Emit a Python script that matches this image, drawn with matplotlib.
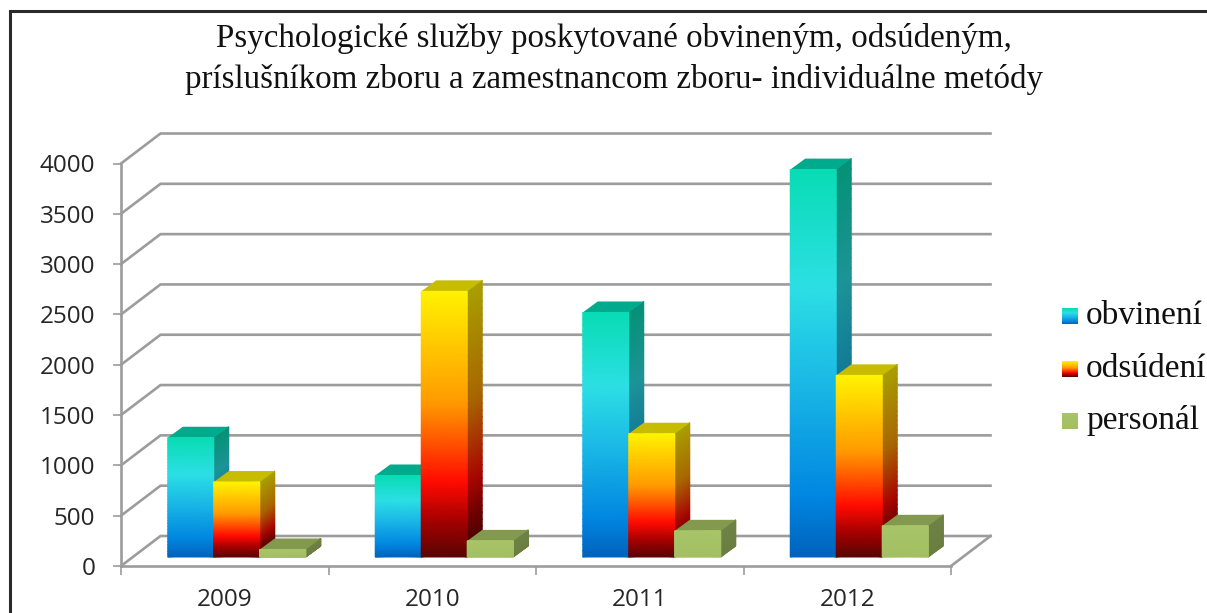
"""Recreation of the 3D-look clustered column chart on psychological services."""

import matplotlib
matplotlib.use("Agg")
import numpy as np
import matplotlib.pyplot as plt
from matplotlib.colors import LinearSegmentedColormap
from matplotlib.patches import Polygon, Rectangle

years = ["2009", "2010", "2011", "2012"]
series_names = ["obvinení", "odsúdení", "personál"]
obvineni = [1185, 810, 2430, 3850]
odsudeni = [745, 2640, 1225, 1805]
personal = [75, 160, 260, 310]
y_ticks = [0, 500, 1000, 1500, 2000, 2500, 3000, 3500, 4000]
title_text = ("Psychologické služby poskytované obvineným, odsúdeným,\n"
              "príslušníkom zboru a zamestnancom zboru- individuálne metódy")

W, H = 1207, 613
GREY = "#9c9c9c"
SHADE = 0.66

# pixel frame of the front plane
LEFT, RIGHT, BOTTOM, TOP = 121, 951, 566, 163.5
PX_X = 1 / ((RIGHT - LEFT) / 4)          # data units per pixel, x
PX_Y = 4000 / (BOTTOM - TOP)             # data units per pixel, y
WALL_DX, WALL_DY = 39.5 * PX_X, 30 * PX_Y
BAR_W = 46 * PX_X
BAR_DX, BAR_DY = 15 * PX_X, 11 * PX_Y
BASE_DX, BASE_DY = 12 * PX_X, 9 * PX_Y

blue_stops = [(0.0, "#08dcb4"), (0.3, "#2cdfe4"), (0.55, "#1ab8e6"),
              (0.85, "#0085e0"), (1.0, "#0062bc")]
fire_stops = [(0.0, "#fff200"), (0.42, "#ff9a00"), (0.72, "#ff0a00"),
              (0.86, "#a80000"), (1.0, "#5a0404")]
green_stops = [(0.0, "#a8c468"), (1.0, "#a2bf62")]
top_colors = ["#00aa8c", "#c8bc00", "#83994e"]


def make_cmap(stops, factor=1.0):
    base = LinearSegmentedColormap.from_list("base", stops)
    rgba = base(np.linspace(1, 0, 256))   # 0 = bottom, 1 = top of the bar
    rgba[:, :3] *= factor
    return LinearSegmentedColormap.from_list("grad", rgba)


fronts = [make_cmap(s) for s in (blue_stops, fire_stops, green_stops)]
sides = [make_cmap(s, SHADE) for s in (blue_stops, fire_stops, green_stops)]


def gradient_face(ax, xs, ys, cmap, z):
    """xs/ys: (n, 2) vertex grids, bottom row first."""
    t = np.linspace(0, 1, xs.shape[0])[:, None].repeat(2, axis=1)
    ax.pcolormesh(xs, ys, t, cmap=cmap, vmin=0, vmax=1, shading="gouraud",
                  zorder=z, clip_on=False)


def draw_bar(ax, x0, value, idx, z):
    y0 = BASE_DY
    y1 = BASE_DY + value
    v = np.linspace(0, 1, 40)
    ys = np.column_stack([y0 + v * value, y0 + v * value])
    xs = np.column_stack([np.full(40, x0), np.full(40, x0 + BAR_W)])
    # side face, sheared back
    side_x = np.column_stack([np.full(40, x0 + BAR_W), np.full(40, x0 + BAR_W + BAR_DX)])
    side_y = np.column_stack([ys[:, 0], ys[:, 0] + BAR_DY])
    gradient_face(ax, side_x, side_y, sides[idx], z)
    ax.add_patch(Polygon([(x0, y1), (x0 + BAR_W, y1),
                          (x0 + BAR_W + BAR_DX, y1 + BAR_DY), (x0 + BAR_DX, y1 + BAR_DY)],
                         closed=True, fc=top_colors[idx], ec="none", zorder=z, clip_on=False))
    gradient_face(ax, xs, ys, fronts[idx], z + 0.1)


fig = plt.figure(figsize=(W / 100, H / 100), dpi=100, facecolor="white")
ax = fig.add_axes([LEFT / W, 1 - BOTTOM / H, (RIGHT - LEFT) / W, (BOTTOM - TOP) / H])
ax.set_xlim(0, 4)
ax.set_ylim(0, 4000)
ax.patch.set_alpha(0)

# walls: back gridlines and the diagonals joining them to the axis
for t in y_ticks:
    ax.plot([0, WALL_DX, 4 + WALL_DX], [t, t + WALL_DY, t + WALL_DY], color=GREY, lw=1.9,
            zorder=1, clip_on=False, solid_joinstyle="miter")
ax.plot([4, 4 + WALL_DX], [0, WALL_DY], color=GREY, lw=1.9, zorder=1, clip_on=False)

# columns
all_series = [obvineni, odsudeni, personal]
for g in range(len(years)):
    start = g + 0.5 - 1.5 * BAR_W + BASE_DX
    for s, values in enumerate(all_series):
        draw_bar(ax, start + s * BAR_W, values[g], s, 3 + g + s * 0.2)

for side in ("top", "right"):
    ax.spines[side].set_visible(False)
for side in ("left", "bottom"):
    ax.spines[side].set_color(GREY)
    ax.spines[side].set_linewidth(1.9)
    ax.spines[side].set_zorder(2)

ax.set_yticks(y_ticks)
ax.set_xticks([0, 1, 2, 3, 4])
ax.set_xticks([0.5, 1.5, 2.5, 3.5], labels=years, minor=True)
ax.set_xticklabels([])
ax.tick_params(axis="x", which="major", length=6.2, width=1.2, color=GREY)
ax.tick_params(axis="x", which="minor", length=0, pad=15.5, labelsize=17.5, labelcolor="#262626")
ax.tick_params(axis="y", length=6, width=1.2, color=GREY, pad=12.5, labelsize=17.5, labelcolor="#262626")
for lab in ax.get_yticklabels() + ax.get_xticklabels(minor=True):
    lab.set_fontfamily("Open Sans")

fig.text(614 / W, 1 - 59 / H, title_text, ha="center", va="center", fontsize=23.75,
         family="Liberation Serif", color="#111111", linespacing=1.44)

# outer frame, open at the bottom edge of the crop
fig.add_artist(Rectangle((9.5 / W, -0.05), 1.2, 1.05 - 11.5 / H, transform=fig.transFigure,
                         fc="none", ec="#2a2a2a", lw=2.2, zorder=10))

# legend
legend_y = [316, 369, 421]
for name, y, cmap in zip(series_names, legend_y, fronts):
    sw = fig.add_axes([1062 / W, 1 - (y + 8) / H, 16 / W, 16 / H])
    sw.imshow(np.linspace(1, 0, 64)[:, None], cmap=cmap, vmin=0, vmax=1, aspect="auto")
    sw.axis("off")
    fig.text(1086 / W, 1 - y / H, name, ha="left", va="center", fontsize=24,
             family="Liberation Serif", color="#111111")

fig.savefig("out.png", dpi=100)
